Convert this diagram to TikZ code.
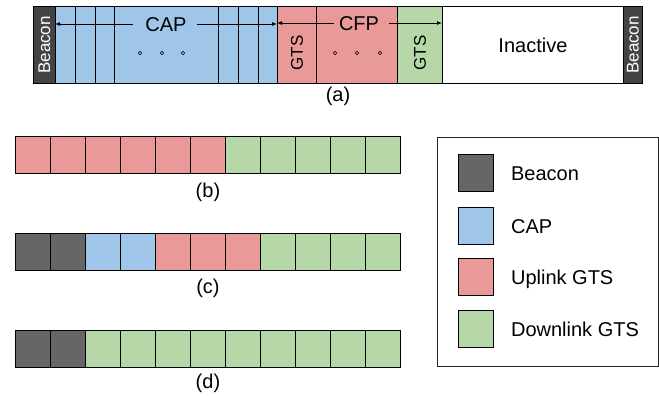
\documentclass[tikz,border=0pt]{standalone}
\usepackage{fontspec}
\setmainfont{Liberation Sans}
\usetikzlibrary{arrows.meta,positioning}

\definecolor{beacondark}{HTML}{444444}
\definecolor{beacongray}{HTML}{666666}
\definecolor{capblue}{HTML}{9FC5E8}
\definecolor{uppink}{HTML}{EA9999}
\definecolor{downgreen}{HTML}{B6D7A8}

\tikzset{
  cell/.style={draw=black, line width=0.9pt, anchor=north west, inner sep=0pt, minimum height=77pt},
  slot/.style={draw=black, line width=0.9pt, anchor=north west, inner sep=0pt, minimum width=35pt, minimum height=37pt},
  lbl/.style={font=\fontsize{20}{24}\selectfont, inner sep=0pt, text height=14.4pt, text depth=0pt},
  sublbl/.style={lbl, text height=15pt, text depth=4pt},
  vtext/.style={rotate=90, font=\fontsize{17}{20}\selectfont, inner sep=0pt},
  arr/.style={-{Latex[length=5pt,width=4pt]}, line width=0.9pt},
  slotdot/.style={circle, draw=black, line width=0.6pt, inner sep=0pt, minimum size=3.5pt}
}

\begin{document}
\begin{tikzpicture}[x=1pt, y=-1pt]
\useasboundingbox (0,0) rectangle (659,396);

% (a) superframe
\foreach \l/\r/\c [count=\i] in {33/55/beacondark, 55/75/capblue, 75/95/capblue, 95/114/capblue,
    114/218/capblue, 218/238/capblue, 238/258/capblue, 258/277/capblue, 277/316/uppink,
    316/397/uppink, 397/442/downgreen, 442/623/white, 623/642/beacondark}
  \node[cell, fill=\c, minimum width={(\r-\l)*1pt}] (a\i) at (\l,6) {};

\node[vtext, text=white] (bcn1) at (a1) {Beacon};
\node[vtext, text=white] (bcn2) at (a13) {Beacon};
\node[vtext] (gts1) at ([yshift=-8pt]a9.center) {GTS};
\node[vtext] (gts2) at ([yshift=-8pt]a11.center) {GTS};
\node[lbl] (inact) at (a12) {Inactive};

\node[lbl] (cap) at (166,24) {CAP};
\node[lbl] (cfp) at (359,23) {CFP};
\draw[arr] ([xshift=-12pt]cap.west) -- (cap.west -| a2.west);
\draw[arr] ([xshift=10pt]cap.east) -- (cap.east -| a9.west);
\draw[arr] ([xshift=-5pt]cfp.west) -- (cfp.west -| a9.west);
\draw[arr] ([xshift=10pt]cfp.east) -- (cfp.east -| a12.west);

\foreach \x [count=\i] in {140,162,183}
  \node[slotdot] (capdot\i) at (\x,53) {};
\foreach \x [count=\i] in {335,357,380}
  \node[slotdot] (cfpdot\i) at (\x,53) {};

\node[sublbl] (lbla) at (338,96) {(a)};

% (b)
\foreach \c [count=\i] in {uppink,uppink,uppink,uppink,uppink,uppink,
    downgreen,downgreen,downgreen,downgreen,downgreen}
  \node[slot, fill=\c] (b\i) at ({15+35*(\i-1)},136) {};
\node[sublbl] (lblb) at ([yshift=-18pt]b6.south) {(b)};

% (c)
\foreach \c [count=\i] in {beacongray,beacongray,capblue,capblue,uppink,uppink,uppink,
    downgreen,downgreen,downgreen,downgreen}
  \node[slot, fill=\c] (c\i) at ({15+35*(\i-1)},233) {};
\node[sublbl] (lblc) at ([yshift=-17pt]c6.south) {(c)};

% (d)
\foreach \c [count=\i] in {beacongray,beacongray,downgreen,downgreen,downgreen,downgreen,
    downgreen,downgreen,downgreen,downgreen,downgreen}
  \node[slot, fill=\c] (d\i) at ({15+35*(\i-1)},330) {};
\node[sublbl] (lbld) at ([yshift=-15pt]d6.south) {(d)};

% legend
\node[draw=black!85, line width=0.8pt, anchor=north west, inner sep=0pt,
  minimum width=221.5pt, minimum height=229pt] (legend) at (436.5,137) {};
\foreach \c/\t/\y [count=\i] in {beacongray/Beacon/154, capblue/CAP/207,
    uppink/Uplink GTS/258, downgreen/Downlink GTS/310}
{
  \node[slot, fill=\c] (key\i) at (458,\y) {};
  \node[lbl, anchor=west, right=17pt of key\i] (keytext\i) {\t};
}
\end{tikzpicture}
\end{document}
